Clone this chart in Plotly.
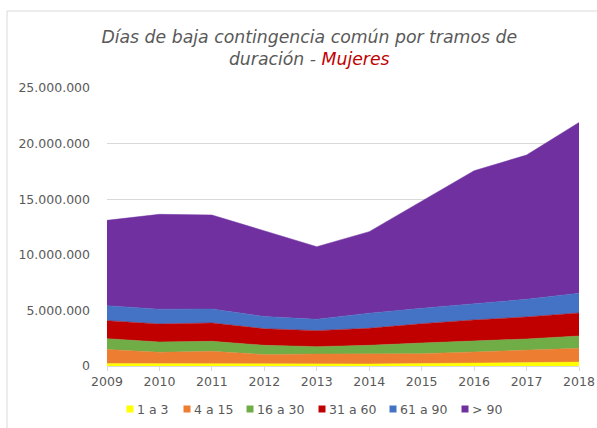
import plotly.graph_objects as go

years = [2009, 2010, 2011, 2012, 2013, 2014, 2015, 2016, 2017, 2018]
series_names = ["1 a 3", "4 a 15", "16 a 30", "31 a 60", "61 a 90", "> 90"]
v_1a3 = [0.22, 0.20, 0.20, 0.17, 0.17, 0.18, 0.22, 0.26, 0.30, 0.35]
v_4a15 = [1.27, 1.03, 1.12, 0.86, 0.91, 0.90, 0.89, 1.00, 1.11, 1.24]
v_16a30 = [0.97, 0.93, 0.90, 0.83, 0.66, 0.78, 0.96, 0.99, 1.02, 1.11]
v_31a60 = [1.62, 1.62, 1.65, 1.49, 1.44, 1.53, 1.73, 1.89, 1.98, 2.07]
v_61a90 = [1.34, 1.32, 1.26, 1.10, 1.02, 1.36, 1.39, 1.44, 1.59, 1.77]
v_90 = [7.68, 8.54, 8.45, 7.72, 6.53, 7.33, 9.61, 11.98, 12.97, 15.36]
colors = ["#FFFF00", "#ED7D31", "#70AD47", "#C00000", "#4472C4", "#7030A0"]
tick_vals = [0, 5e6, 10e6, 15e6, 20e6, 25e6]

all_vals = [v_1a3, v_4a15, v_16a30, v_31a60, v_61a90, v_90]

fig = go.Figure()
for name, vals, col in zip(series_names, all_vals, colors):
    fig.add_trace(go.Scatter(
        x=years, y=[v * 1e6 for v in vals], name=name, stackgroup="one",
        mode="lines", line=dict(width=0.5, color=col), fillcolor=col,
        showlegend=False, hoverinfo="x+y+name"))

font_family = "DejaVu Sans"
grey = "#595959"

# plot area geometry in pixels (for legend placement in paper units)
L, R, T, B = 107, 18, 88, 62
W, H = 597, 428
pw, ph = W - L - R, H - T - B

def px_to_paper_x(px):
    return (px - L) / pw

def px_to_paper_y(py):
    return (H - B - py) / ph

# custom legend (square + label) laid out in one row
legend_sq_px = [130, 187, 250, 322, 393, 465]
legend_y_px = 409
shapes = [dict(type="rect", xref="paper", yref="paper",
               x0=px_to_paper_x(7), x1=px_to_paper_x(W + 5),
               y0=px_to_paper_y(H + 20), y1=px_to_paper_y(11),
               line=dict(color="#d9d9d9", width=1), layer="below")]
annotations = []
for name, col, sx in zip(series_names, colors, legend_sq_px):
    shapes.append(dict(type="rect", xref="paper", yref="paper",
                       x0=px_to_paper_x(sx - 3.5), x1=px_to_paper_x(sx + 3.5),
                       y0=px_to_paper_y(legend_y_px + 3.5), y1=px_to_paper_y(legend_y_px - 3.5),
                       fillcolor=col, line=dict(width=0)))
    annotations.append(dict(xref="paper", yref="paper", x=px_to_paper_x(sx + 5),
                            y=px_to_paper_y(legend_y_px), xanchor="left", yanchor="middle",
                            text=name, showarrow=False,
                            font=dict(family=font_family, size=12.5, color=grey)))

fig.update_layout(
    width=W, height=H,
    margin=dict(l=L, r=R, t=T, b=B, autoexpand=False),
    paper_bgcolor="white", plot_bgcolor="white",
    separators=",.",
    showlegend=False,
    font=dict(family=font_family, size=12.5, color=grey),
    title=dict(
        text="<i>Días de baja contingencia común por tramos de<br>duración - "
             "<span style='color:#C00000'>Mujeres</span></i>",
        x=0.518, xanchor="center", y=0.90, yanchor="top",
        font=dict(family=font_family, size=17.3, color=grey)),
    xaxis=dict(
        range=[2009, 2018], tickvals=years, ticktext=[str(y) for y in years],
        showgrid=False, zeroline=False, showline=True, linecolor="#d9d9d9",
        ticks="outside", ticklen=4, tickcolor="#d9d9d9",
        tickfont=dict(size=12.5, color=grey)),
    yaxis=dict(
        range=[0, 25e6], tickvals=tick_vals, tickformat=",.0f",
        showgrid=True, gridcolor="#d9d9d9", zeroline=False, showline=False,
        ticks="", ticklabelstandoff=16, tickfont=dict(size=12.5, color=grey)),
    shapes=shapes,
    annotations=annotations,
)

fig.write_html("out.html",
               config={"displayModeBar": False},
               post_script="document.body.style.margin='0';document.body.style.overflow='hidden';")
